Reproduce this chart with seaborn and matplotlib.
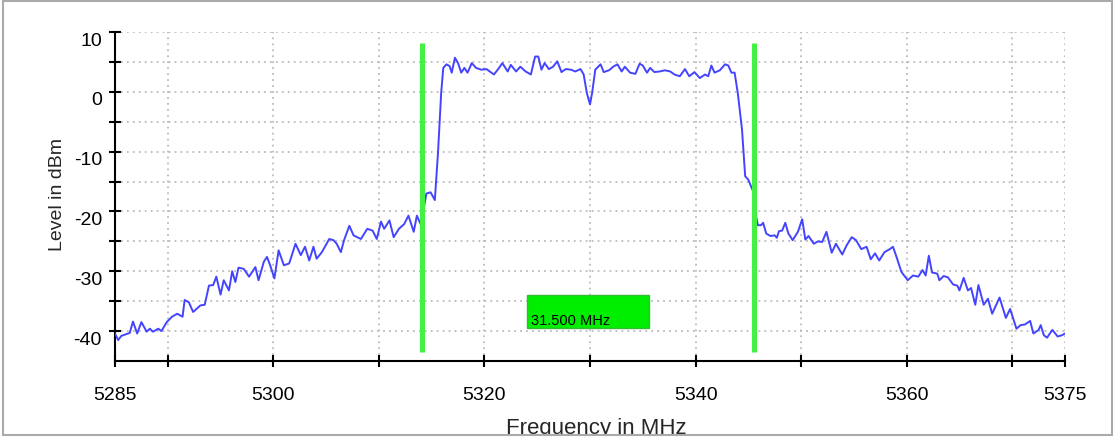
import matplotlib
matplotlib.use("Agg")
import matplotlib.pyplot as plt
import matplotlib.transforms as mtransforms
from matplotlib.patches import Rectangle
import seaborn as sns

# spectrum trace (MHz, dBm)
freq = [5285.0, 5285.3, 5285.6, 5286.4, 5286.7, 5287.1, 5287.5, 5288.0, 5288.3, 5288.6,
        5289.1, 5289.4, 5289.9, 5290.4, 5290.9, 5291.4, 5291.6, 5292.0, 5292.4, 5293.1,
        5293.5, 5293.9, 5294.3, 5294.6, 5295.0, 5295.3, 5295.8, 5296.1, 5296.4, 5296.7,
        5297.2, 5297.7, 5298.0, 5298.3, 5298.6, 5299.1, 5299.4, 5299.7, 5300.1, 5300.5,
        5301.0, 5301.5, 5302.1, 5302.6, 5303.0, 5303.4, 5303.8, 5304.1, 5304.6, 5305.3,
        5305.7, 5306.0, 5306.4, 5306.7, 5307.2, 5307.6, 5308.3, 5308.9, 5309.4, 5309.8,
        5310.2, 5310.5, 5311.0, 5311.4, 5311.9, 5312.4, 5312.8, 5313.3, 5313.6, 5314.0,
        5314.3, 5314.5, 5314.9, 5315.3, 5315.6, 5315.9, 5316.1, 5316.4, 5316.7, 5316.9,
        5317.2, 5317.5, 5317.8, 5318.1, 5318.4, 5318.8, 5319.2, 5319.7, 5320.2, 5320.5,
        5320.9, 5321.3, 5321.7, 5322.2, 5322.5, 5323.0, 5323.4, 5323.9, 5324.4, 5324.8,
        5325.1, 5325.4, 5325.7, 5326.1, 5326.5, 5326.9, 5327.3, 5327.7, 5328.2, 5328.6,
        5329.1, 5329.4, 5329.7, 5330.0, 5330.2, 5330.5, 5331.0, 5331.3, 5331.8, 5332.2,
        5332.6, 5333.0, 5333.3, 5333.8, 5334.3, 5334.7, 5335.0, 5335.4, 5335.7, 5336.1,
        5336.6, 5337.1, 5337.6, 5338.0, 5338.5, 5339.0, 5339.4, 5339.9, 5340.4, 5340.9,
        5341.2, 5341.5, 5341.8, 5342.3, 5342.8, 5343.1, 5343.4, 5343.7, 5344.0, 5344.4,
        5344.7, 5345.0, 5345.3, 5345.5, 5345.7, 5345.9, 5346.2, 5346.4, 5346.7, 5347.1,
        5347.5, 5347.7, 5347.9, 5348.2, 5348.5, 5348.8, 5349.2, 5349.7, 5350.1, 5350.4,
        5350.7, 5351.2, 5351.6, 5352.0, 5352.4, 5352.9, 5353.3, 5353.9, 5354.3, 5354.8,
        5355.2, 5355.7, 5356.2, 5356.6, 5357.0, 5357.4, 5357.9, 5358.4, 5358.7, 5359.0,
        5359.5, 5360.1, 5360.6, 5361.1, 5361.5, 5361.8, 5362.1, 5362.4, 5362.9, 5363.1,
        5363.5, 5363.9, 5364.4, 5364.8, 5365.0, 5365.4, 5365.8, 5366.1, 5366.5, 5366.8,
        5367.3, 5367.7, 5368.1, 5368.8, 5369.4, 5369.8, 5370.4, 5370.8, 5371.2, 5371.7,
        5372.0, 5372.5, 5372.7, 5373.0, 5373.3, 5373.8, 5374.3, 5374.7, 5375.0]
level = [-40.4, -41.5, -40.8, -40.3, -38.4, -40.4, -38.5, -40.1, -39.6, -40.1,
         -39.6, -40.0, -38.5, -37.6, -37.1, -37.6, -34.8, -35.2, -36.8, -35.7,
         -35.6, -32.4, -32.3, -30.9, -33.9, -31.5, -33.2, -30.0, -31.8, -29.4,
         -29.6, -30.9, -30.1, -29.3, -31.5, -28.4, -27.6, -29.0, -31.2, -26.5,
         -29.0, -28.7, -25.4, -27.3, -25.9, -28.2, -25.9, -27.9, -26.8, -24.6,
         -24.8, -25.4, -26.8, -24.8, -22.4, -24.0, -24.6, -22.9, -23.2, -24.6,
         -21.7, -22.9, -21.5, -24.3, -22.9, -22.1, -20.7, -23.4, -20.7, -22.3,
         -19.0, -17.0, -16.8, -18.1, -10.2, -0.2, 4.0, 4.6, 4.3, 3.2,
         5.7, 4.8, 3.2, 4.0, 3.2, 4.8, 4.0, 3.7, 3.8, 3.4,
         2.9, 3.8, 4.8, 3.4, 4.5, 3.4, 4.2, 3.4, 2.9, 5.9,
         5.9, 3.7, 4.8, 3.8, 4.2, 5.1, 3.3, 3.8, 3.7, 3.4,
         3.8, 2.9, -0.2, -2.1, -0.2, 3.7, 4.6, 3.3, 3.6, 4.2,
         4.6, 3.4, 4.2, 3.2, 3.0, 4.7, 4.4, 3.2, 4.0, 3.3,
         3.4, 3.6, 3.4, 2.9, 2.6, 3.8, 2.6, 3.3, 2.3, 2.9,
         2.6, 4.4, 3.2, 3.6, 4.6, 4.4, 3.2, 3.2, -0.2, -6.3,
         -14.1, -14.7, -16.0, -16.8, -20.5, -22.3, -22.3, -21.9, -23.7, -24.1,
         -24.0, -24.4, -23.3, -23.2, -21.9, -23.7, -24.8, -23.4, -21.3, -24.7,
         -24.1, -25.4, -25.0, -25.1, -23.4, -26.9, -25.4, -27.2, -25.7, -24.3,
         -24.8, -26.3, -25.9, -28.0, -27.0, -28.2, -26.8, -26.3, -25.9, -27.4,
         -30.1, -31.5, -30.7, -30.9, -29.8, -30.7, -27.4, -30.2, -30.4, -31.5,
         -30.8, -31.0, -32.2, -32.4, -33.2, -31.1, -33.2, -32.8, -35.6, -32.3,
         -35.6, -34.6, -37.1, -34.4, -37.8, -36.3, -39.6, -39.0, -38.9, -38.3,
         -40.4, -39.8, -39.0, -40.7, -41.1, -39.8, -40.9, -40.7, -40.4]

# marker lines and bandwidth box
markers = [5314.05, 5345.55]
marker_span = (-43.5, 8.2)
bw_label = "31.500 MHz"

x_ticks = [5285, 5290, 5300, 5310, 5320, 5330, 5340, 5350, 5360, 5370, 5375]
x_labels = ["5285", "", "5300", "", "5320", "", "5340", "", "5360", "", "5375"]
y_ticks = [10, 5, 0, -5, -10, -15, -20, -25, -30, -35, -40]
y_labels = ["10", "", "0", "", "-10", "", "-20", "", "-30", "", "-40"]

sns.set_style("white")
plt.rcParams["font.family"] = ["Liberation Sans", "DejaVu Sans"]

fig = plt.figure(figsize=(11.13, 4.39), dpi=100)
ax = fig.add_axes([115 / 1113, 77 / 439, 950 / 1113, 329 / 439])

sns.lineplot(x=freq, y=level, color="#4444ff", linewidth=1.4, ax=ax, zorder=3)

ax.vlines(markers, marker_span[0], marker_span[1], color="#45f045", linewidth=3.6, zorder=4)

ax.add_patch(Rectangle((5324.07, -39.4), 11.5, 5.35, facecolor="#00ee00",
                       edgecolor="#33bb33", linewidth=1.0, zorder=5))
ax.text(5324.45, -38.8, bw_label, fontsize=10.5, color="black", ha="left",
        va="baseline", zorder=6)

ax.set_xlim(5285, 5375)
ax.set_ylim(-45, 10)
ax.set_xticks(x_ticks)
ax.set_xticklabels(x_labels)
ax.set_yticks(y_ticks)
ax.set_yticklabels(y_labels)

ax.grid(True, color="#bbbbbb", linestyle=(0, (1, 2.3)), linewidth=1.3)
ax.set_axisbelow(True)

for side in ["top", "right"]:
    ax.spines[side].set_visible(False)
for side in ["left", "bottom"]:
    ax.spines[side].set_color("black")
    ax.spines[side].set_linewidth(1.5)

ax.tick_params(axis="both", bottom=True, left=True, direction="inout", length=9,
               width=1.5, color="black", labelsize=14, labelcolor="black")
ax.tick_params(axis="y", pad=4.9)
ax.tick_params(axis="x", pad=13.5)

# y tick labels sit a few pixels below their ticks
shift = mtransforms.ScaledTranslation(0, -6 / 100, fig.dpi_scale_trans)
for t in ax.yaxis.get_major_ticks():
    t.label1.set_transform(t.label1.get_transform() + shift)

ax.set_ylabel("Level in dBm", fontsize=14, va="center")
ax.yaxis.set_label_coords(-0.0605, 0.508)
ax.set_xlabel("Frequency in MHz", fontsize=16)
ax.xaxis.set_label_coords(0.507, -0.219)
ax.xaxis.label.set_va("baseline")

# window frame; the x label is cut by its bottom edge
fig.patches.append(Rectangle((0, 0), 1, 3 / 439, transform=fig.transFigure,
                             facecolor="white", edgecolor="none", zorder=10))
fig.patches.append(Rectangle((2.5 / 1113, 3 / 439), 1109 / 1113, 434.5 / 439,
                             transform=fig.transFigure, facecolor="none",
                             edgecolor="#aaaaaa", linewidth=1.5, zorder=11))

fig.savefig("out.png", dpi=100)
